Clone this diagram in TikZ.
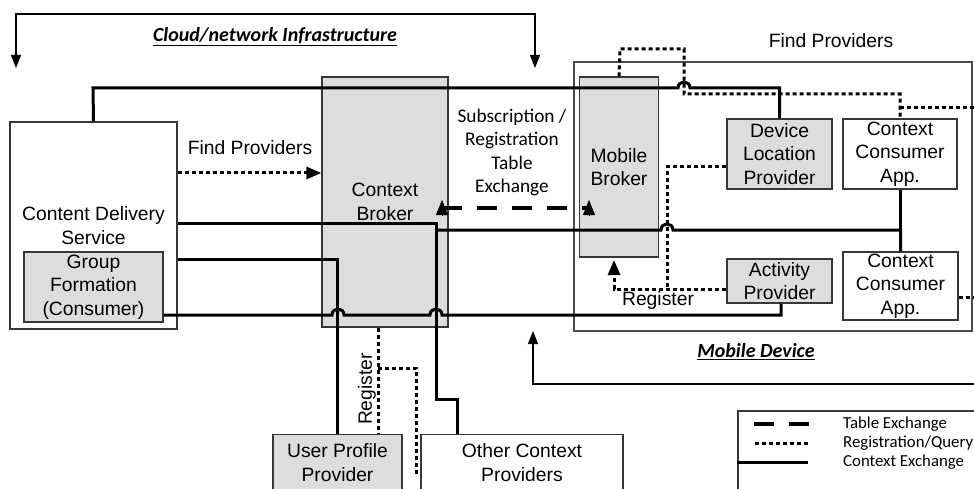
\documentclass[tikz,border=0pt]{standalone}
\usepackage{fontspec}
\setmainfont{Liberation Sans}
\newfontfamily\calibri{Carlito}
\usetikzlibrary{arrows.meta,positioning}
\definecolor{boxgray}{RGB}{220,222,221}
\definecolor{edgegray}{RGB}{55,55,55}

\begin{document}
\begin{tikzpicture}[x=1pt, y=-1pt,
	font=\fontsize{19.3}{23.5}\selectfont,
	box/.style={draw=edgegray, line width=1.3pt, align=center, inner sep=0pt},
	grey/.style={box, fill=boxgray},
	cal/.style={font=\calibri\fontsize{19.3}{23.5}\selectfont},
	title/.style={font=\calibri\fontsize{20}{24}\selectfont\bfseries\itshape},
	keytext/.style={font=\calibri\fontsize{16.8}{19}\selectfont, anchor=west, inner sep=0pt},
	ctx/.style={line width=3pt},
	reg/.style={line width=3pt, dash pattern=on 4pt off 3pt},
	tab/.style={line width=3.4pt, dash pattern=on 20pt off 15pt},
	brk/.style={line width=1.3pt},
	tip/.style={-{Triangle[length=15pt, width=12pt]}}
	]
	\useasboundingbox (0,0) rectangle (974,489);
	\clip (0,0) rectangle (974,489);

	\node[box, draw=edgegray!90, minimum width=398pt, minimum height=269pt] (md) at (773,196.5) {};

	\begin{scope}
		\node[box, minimum width=167pt, minimum height=207pt] (cds) at (93.5,225.5) {Content Delivery\\Service};
		\node[grey, minimum width=139pt, minimum height=70pt] (gf) at (93.5,287) {Group\\Formation\\(Consumer)};
		\node[grey, minimum width=126pt, minimum height=250pt] (cb) at (385,202) {Context\\Broker};
		\node[grey, minimum width=129pt, minimum height=56pt] (upp) at (337.5,462.5) {User Profile\\Provider};
		\node[box, minimum width=202pt, minimum height=56pt] (ocp) at (522,462.5) {Other Context\\Providers};
	\end{scope}

	\begin{scope}
		\node[grey, minimum width=79pt, minimum height=180pt] (mb) at (619,167) {Mobile\\Broker};
		\node[grey, minimum width=105pt, minimum height=70pt] (dlp) at (779.5,154) {Device\\Location\\Provider};
		\node[box, minimum width=114pt, minimum height=70pt] (cca) at (900,154) {Context\\Consumer\\App.};
		\node[grey, minimum width=105pt, minimum height=44pt] (act) at (779.5,281) {Activity\\Provider};
		\node[box, minimum width=115pt, minimum height=68pt] (ccb) at (900.5,286) {Context\\Consumer\\App.};
	\end{scope}

	\node[title] (cloud) at (275,37) {\underline{Cloud/network Infrastructure}};
	\node[title] (mobile) at (756,352) {\underline{Mobile Device}};
	\node (findl) at (250,148) {Find Providers};
	\node (findr) at (831,41) {Find Providers};
	\node[cal, align=center] (subs) at (512,152.5) {Subscription /\\Registration\\Table\\Exchange};
	\node (regm) at (658,301) {Register};
	\node[rotate=90] (regc) at (367,389) {Register};

	\coordinate (cl) at (16,68);
	\coordinate (cr) at (535,68);
	\coordinate (ml) at (533,331);
	\coordinate (mr) at (980,384);
	\draw[brk, {Triangle[length=13pt, width=10pt]}-{Triangle[length=13pt, width=10pt]}] (cr) -- (535,14) -- (16,14) -- (cl);
	\draw[brk, -{Triangle[length=13pt, width=10pt]}] (mr) -- (533,384) -- (ml);

	\draw[reg] (mb.north) -- (620,49) -- (684,49) -- (684,94) -- (900,94) -- (cca.north);
	\draw[reg] (900,108) -- (980,108);
	\draw[reg] (dlp.west |- 0,167) -- (667,167) -- (667,289);
	\draw[reg, tip] (act.west |- 0,289) -- (614,289) -- (614,260);
	\draw[reg] (378,0 |- cb.south) -- (378,0 |- upp.north);
	\draw[reg] (378,368) -- (416,368) -- (416,472) -- (ocp.west |- 0,472);
	\draw[reg] (ccb.east |- 0,297) -- (980,297);
	\draw[reg, tip] (cds.east |- 0,173) -- (cb.west |- 0,173);

	\draw[ctx] (cds.north) -- (93,88) -- (678,88) .. controls (678,80) and (690,80) .. (690,88) -- (dlp.north |- 0,88) -- (dlp.north);
	\draw[ctx] (cds.east |- 0,223) -- (436,223) -- (436,399) -- (457,399) -- (457,0 |- ocp.north);
	\draw[ctx] (436,230) -- (661,230) .. controls (661,222) and (673,222) .. (673,230) -- (ccb.north |- 0,230) -- (ccb.north);
	\draw[ctx] (cca.south) -- (cca.south |- 0,230);
	\draw[ctx] (cds.east |- 0,259) -- (upp.north |- 0,259) -- (upp.north);
	\draw[ctx] (gf.east |- 0,315) -- (332,315) .. controls (332,307) and (344,307) .. (344,315) -- (430,315) .. controls (430,307) and (442,307) .. (442,315) -- (781,315) -- (781,0 |- act.south);

	\draw[tab] (442,208) -- (589,208);
	\draw[tip] (442,216) -- (442,200);
	\draw[tip] (589,216) -- (589,200);

	\node[box, minimum width=250pt, minimum height=90pt] (key) at (863,456) {};
	\draw[tab] (754,424) -- (809,424);
	\draw[reg] (755,443) -- (808,443);
	\draw[ctx] (key.west |- 0,462) -- (808,462);
	\node[keytext] (ktab) at (843,424) {Table Exchange};
	\node[keytext] (kreg) at (843,443) {Registration/Query};
	\node[keytext] (kctx) at (843,462) {Context Exchange};
\end{tikzpicture}
\end{document}
